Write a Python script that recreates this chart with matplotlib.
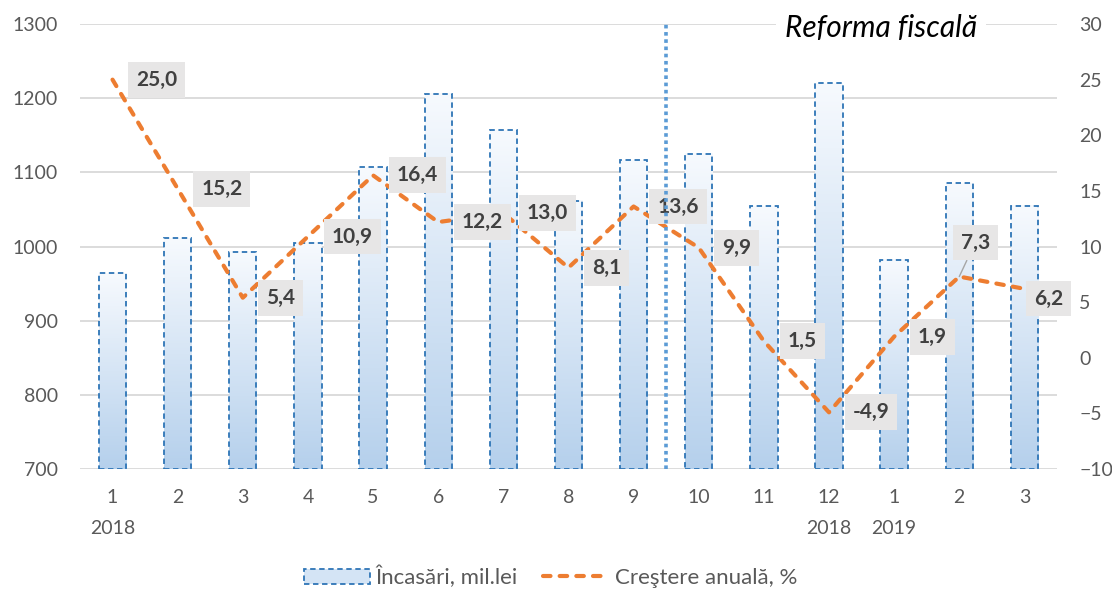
import numpy as np
import matplotlib
matplotlib.use("Agg")
import matplotlib.pyplot as plt
from matplotlib.patches import Patch
from matplotlib.lines import Line2D
from matplotlib.colors import LinearSegmentedColormap

plt.rcParams['font.family'] = ['Lato', 'DejaVu Sans']

# data
months = ['1\n2018', '2', '3', '4', '5', '6', '7', '8', '9', '10', '11',
          '12\n2018', '1\n2019', '2', '3']
incasari = [964, 1011, 993, 1005, 1107, 1206, 1157, 1062, 1116, 1125, 1054,
            1220, 982, 1085, 1055]
crestere = [25.0, 15.2, 5.4, 10.9, 16.4, 12.2, 13.0, 8.1, 13.6, 9.9, 1.5,
            -4.9, 1.9, 7.3, 6.2]
left_ticks = [700, 800, 900, 1000, 1100, 1200, 1300]
right_ticks = [-10, -5, 0, 5, 10, 15, 20, 25, 30]

bar_edge = '#2E75B6'
orange = '#ED7D31'
tick_col = '#595959'

fig = plt.figure(figsize=(11.12, 5.93), dpi=100)
ax = fig.add_axes([0.0719, 0.209, 0.8786, 0.7505])

x = np.arange(len(months))
w = 0.42
grad_cmap = LinearSegmentedColormap.from_list('g', ['#B5D0EC', '#F7FAFE'])
grad = np.linspace(0, 1, 256).reshape(-1, 1)

for xi, v in zip(x, incasari):
    ax.imshow(grad, extent=[xi - w / 2, xi + w / 2, 700, v], origin='lower',
              aspect='auto', cmap=grad_cmap, zorder=2, interpolation='bicubic')
ax.bar(x, [v - 700 for v in incasari], bottom=700, width=w, facecolor='none',
       edgecolor=bar_edge, linewidth=1.3, linestyle=(0, (3, 2)), zorder=3)

ax.set_xlim(-0.5, len(months) - 0.5)
ax.set_ylim(700, 1300)
ax.set_yticks(left_ticks)
ax.set_xticks(x)
ax.set_xticklabels(months, linespacing=2.0)
ax.yaxis.grid(True, color='#D9D9D9', linewidth=1.3)
ax.set_axisbelow(True)
for s in ax.spines.values():
    s.set_visible(False)
ax.tick_params(axis='y', length=0, pad=16, labelsize=14, colors=tick_col)
ax.tick_params(axis='x', length=0, pad=14, labelsize=14, colors=tick_col)
for lab in ax.get_xticklabels():
    lab.set_verticalalignment('top')

ax2 = ax.twinx()
ax2.plot(x, crestere, color=orange, linewidth=3, linestyle=(0, (1.8, 2.2)),
         dash_capstyle='round', zorder=3)
ax2.set_ylim(-10, 30)
ax2.set_yticks(right_ticks)
for s in ax2.spines.values():
    s.set_visible(False)
ax2.tick_params(axis='y', length=0, pad=16, labelsize=14, colors=tick_col)

for i, v in enumerate(crestere):
    txt = f"{v:.1f}".replace('.', ',')
    if i == 13:
        off, ha, va = (11.5, 24.5), 'center', 'center'
        arrow = dict(arrowstyle='-', color='#A6A6A6', lw=1, shrinkA=0, shrinkB=0)
    elif i == 14:
        off, ha, va = (7, -7), 'left', 'center'
        arrow = None
    else:
        off, ha, va = (17, 0), 'left', 'center'
        arrow = None
    ax2.annotate(txt, xy=(i, v), xytext=off, textcoords='offset points',
                 ha=ha, va=va, fontsize=15, fontweight='bold', color='#404040',
                 bbox=dict(boxstyle='square,pad=0.38', fc='#E7E6E6', ec='none'),
                 arrowprops=arrow, zorder=5)

ax2.axvline(8.5, color='#5B9BD5', linewidth=2.6, linestyle=(0, (1, 1)), zorder=6)

ax2.text(0.82, 0.99, 'Reforma fiscală', transform=ax2.transAxes,
         ha='center', va='center', fontsize=21.5, fontstyle='italic', color='black',
         bbox=dict(boxstyle='square,pad=0.3', fc='white', ec='none'), zorder=7)

handles = [Patch(facecolor='#D4E4F5', edgecolor=bar_edge, linestyle=(0, (3, 2)),
                 linewidth=1.3),
           Line2D([0], [0], color=orange, linewidth=3, linestyle=(0, (1.8, 2.2)),
                  dash_capstyle='round')]
fig.legend(handles, ['Încasări, mil.lei', 'Creştere anuală, %'], loc='center',
           bbox_to_anchor=(0.495, 0.027), ncol=2, frameon=False, fontsize=16,
           labelcolor=tick_col, handlelength=3.0, handleheight=0.7,
           handletextpad=0.25, columnspacing=1.1)

fig.savefig('out.png', dpi=100)
